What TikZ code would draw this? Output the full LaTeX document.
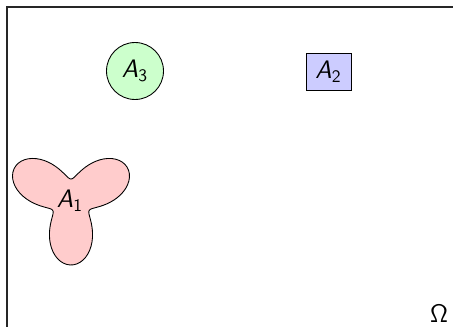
\documentclass[tikz,border=0pt]{standalone}
\DeclareMathAlphabet{\mathsfsl}{OT1}{cmss}{m}{sl}
\begin{document}
\begin{tikzpicture}[
  setnode/.style={draw,line width=0.5pt,inner sep=0pt,font=\Large},
  setlabel/.style={inner sep=0pt,font=\Large}]
% frame of Omega, clipped at the page edge
\useasboundingbox (0,0) rectangle (9.06,6.52);
\clip (0,0) rectangle (9.06,6.52);
\draw[line width=0.8pt,black!85] (0.14,-1) rectangle (10,6.38);
% A_1, three lobes
\coordinate (c1) at (1.42,2.52);
\filldraw[fill=red!20,line width=0.5pt,shift={(c1)}]
 plot[domain=0:360,samples=120,smooth cycle] (\x:{0.86+0.44*cos(3*\x-90)});
\node[setlabel] (A1) at (1.40,2.50) {$\mathsfsl{A}_{\mathsf{1}}$};
% A_3 and A_2
\node[setnode,circle,fill=green!20,minimum size=1.14cm] (A3) at (2.70,5.10)
 {$\mathsfsl{A}_{\mathsf{3}}$};
\node[setnode,rectangle,fill=blue!20,minimum width=0.9cm,minimum height=0.74cm]
 (A2) at (6.57,5.09) {$\mathsfsl{A}_{\mathsf{2}}$};
\node[setlabel] (Om) at (8.78,0.24) {$\mathsf{\Omega}$};
\end{tikzpicture}
\end{document}
